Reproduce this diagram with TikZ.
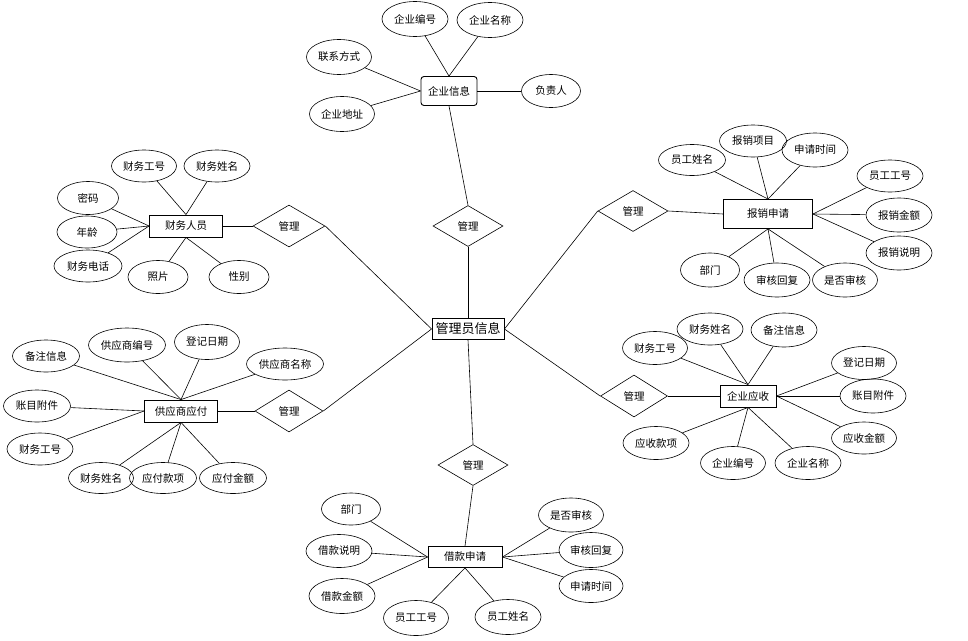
\documentclass[tikz,border=0pt]{standalone}
\usepackage{fontspec}
\setmainfont{Noto Sans CJK SC}
\usetikzlibrary{shapes.geometric}
\begin{document}
\begin{tikzpicture}[x=1pt,y=-1pt,
  attr/.style={ellipse,draw,line width=0.6pt,minimum width=66pt,minimum height=33pt,inner sep=0pt,font=\fontsize{10.5}{12}\selectfont},
  ent/.style={rectangle,draw,line width=0.9pt,inner sep=0pt,font=\fontsize{10.5}{12}\selectfont},
  rel/.style={diamond,draw,line width=0.6pt,minimum width=70pt,minimum height=41pt,inner sep=0pt,font=\fontsize{10.5}{12}\selectfont},
  conn/.style={line width=0.6pt}]
\useasboundingbox (0,0) rectangle (968,640);
% central
\node[ent,minimum width=72pt,minimum height=21pt,font=\fontsize{13}{15}\selectfont] (main) at (468,329) {管理员信息};
% relationships
\node[rel] (d1) at (468,226) {管理};
\node[rel] (d2) at (633,211) {管理};
\node[rel,minimum width=72pt,minimum height=42pt] (d3) at (289,226) {管理};
\node[rel,minimum width=67pt,minimum height=42pt] (d4) at (634,396) {管理};
\node[rel] (d5) at (473,465) {管理};
\node[rel,minimum width=68pt,minimum height=42pt] (d6) at (289,411) {管理};
% entities
\node[ent,rounded corners=3pt,minimum width=56pt,minimum height=29pt] (qyxx) at (449,91) {企业信息};
\node[ent,minimum width=89pt,minimum height=29pt] (bxsq) at (768,214) {报销申请};
\node[ent,minimum width=73pt,minimum height=22pt] (cwry) at (186,226) {财务人员};
\node[ent,minimum width=73pt,minimum height=22pt] (gysyf) at (181,411) {供应商应付};
\node[ent,minimum width=56pt,minimum height=22pt] (qyys) at (748,396) {企业应收};
\node[ent,minimum width=74pt,minimum height=21pt] (jksq) at (465,557) {借款申请};
% 企业信息 attributes
\node[attr,minimum height=35pt] (a11) at (415,19) {企业编号};
\node[attr,minimum height=35pt] (a12) at (490,20) {企业名称};
\node[attr,minimum width=65pt,minimum height=35pt] (a13) at (339,57) {联系方式};
\node[attr,minimum width=65pt,minimum height=35pt] (a14) at (342,114) {企业地址};
\node[attr,minimum width=59pt] (a15) at (551,91) {负责人};
% 报销申请 attributes
\node[attr,minimum width=67pt,minimum height=31pt] (a21) at (692,160) {员工姓名};
\node[attr,minimum width=67pt,minimum height=32pt] (a22) at (753,141) {报销项目};
\node[attr,minimum height=34pt] (a23) at (815,150) {申请时间};
\node[attr,minimum height=32pt] (a24) at (890,176) {员工工号};
\node[attr,minimum height=34pt] (a25) at (899,215) {报销金额};
\node[attr,minimum height=34pt] (a26) at (899,253) {报销说明};
\node[attr,minimum width=59pt,minimum height=34pt] (a27) at (710,270) {部门};
\node[attr,minimum height=34pt] (a28) at (777,280) {审核回复};
\node[attr,minimum width=65pt,minimum height=34pt] (a29) at (845,280) {是否审核};
% 财务人员 attributes
\node[attr,minimum width=65pt,minimum height=32pt] (a31) at (144,166) {财务工号};
\node[attr,minimum height=32pt] (a32) at (217,166) {财务姓名};
\node[attr,minimum width=61pt] (a33) at (88,198) {密码};
\node[attr,minimum width=60pt,minimum height=32pt] (a34) at (87,232) {年龄};
\node[attr,minimum width=68pt,minimum height=32pt] (a35) at (88,266) {财务电话};
\node[attr,minimum width=60pt] (a36) at (158,277) {照片};
\node[attr,minimum width=60pt] (a37) at (239,277) {性别};
% 供应商应付 attributes
\node[attr,minimum width=67pt,minimum height=32pt] (a41) at (46,356) {备注信息};
\node[attr,minimum width=77pt,minimum height=34pt] (a42) at (127,345) {供应商编号};
\node[attr,minimum width=65pt,minimum height=35pt] (a43) at (207,342) {登记日期};
\node[attr,minimum width=77pt,minimum height=32pt] (a44) at (285,364) {供应商名称};
\node[attr,minimum width=67pt,minimum height=32pt] (a45) at (37,406) {账目附件};
\node[attr,minimum height=32pt] (a46) at (40,449) {财务工号};
\node[attr,minimum width=65pt,minimum height=31pt] (a47) at (101,478) {财务姓名};
\node[attr,minimum width=67pt,minimum height=31pt] (a48) at (163,478) {应付款项};
\node[attr,minimum width=67pt,minimum height=31pt] (a49) at (233,478) {应付金额};
% 企业应收 attributes
\node[attr,minimum width=65pt] (a51) at (655,348) {财务工号};
\node[attr,minimum height=32pt] (a52) at (710,329) {财务姓名};
\node[attr,minimum height=34pt] (a53) at (784,330) {备注信息};
\node[attr,minimum width=65pt] (a54) at (864,363) {登记日期};
\node[attr,minimum height=34pt] (a55) at (873,396) {账目附件};
\node[attr,minimum width=65pt,minimum height=32pt] (a56) at (864,438) {应收金额};
\node[attr] (a57) at (656,443) {应收款项};
\node[attr,minimum width=65pt] (a58) at (733,463) {企业编号};
\node[attr] (a59) at (808,463) {企业名称};
% 借款申请 attributes
\node[attr,minimum width=59pt,minimum height=32pt] (a61) at (351,509) {部门};
\node[attr] (a62) at (339,551) {借款说明};
\node[attr,minimum height=35pt] (a63) at (342,596) {借款金额};
\node[attr,minimum width=65pt,minimum height=35pt] (a64) at (416,618) {员工工号};
\node[attr,minimum height=35pt] (a65) at (508,617) {员工姓名};
\node[attr,minimum width=65pt,minimum height=34pt] (a66) at (571,515) {是否审核};
\node[attr,minimum width=64pt,minimum height=35pt] (a67) at (591,550) {审核回复};
\node[attr,minimum width=64pt] (a68) at (591,586) {申请时间};
% connectors: main to relationships
\draw[conn] (main.north) -- (d1.south);
\draw[conn] (main.south) -- (d5.north);
\draw[conn] (main.east) -- (d2.west);
\draw[conn] (main.east) -- (d4.west);
\draw[conn] (main.west) -- (d3.east);
\draw[conn] (main.west) -- (d6.east);
% relationships to entities
\draw[conn] (d1.north) -- (qyxx.south);
\draw[conn] (d2.east) -- (bxsq.west);
\draw[conn] (d3.west) -- (cwry.east);
\draw[conn] (d4.east) -- (qyys.west);
\draw[conn] (d5.south) -- (jksq.north);
\draw[conn] (d6.west) -- (gysyf.east);
% 企业信息
\draw[conn] (a11) -- (qyxx.north);
\draw[conn] (a12) -- (qyxx.north);
\draw[conn] (a13) -- (qyxx.west);
\draw[conn] (a14) -- (qyxx.west);
\draw[conn] (a15) -- (qyxx.east);
% 报销申请
\draw[conn] (a21) -- (bxsq.north);
\draw[conn] (a22) -- (bxsq.north);
\draw[conn] (a23) -- (bxsq.north);
\draw[conn] (a24) -- (bxsq.east);
\draw[conn] (a25) -- (bxsq.east);
\draw[conn] (a26) -- (bxsq.east);
\draw[conn] (a27) -- (bxsq.south);
\draw[conn] (a28) -- (bxsq.south);
\draw[conn] (a29) -- (bxsq.south);
% 财务人员
\draw[conn] (a31) -- (cwry.north);
\draw[conn] (a32) -- (cwry.north);
\draw[conn] (a33) -- (cwry.west);
\draw[conn] (a34) -- (cwry.west);
\draw[conn] (a35) -- (cwry.west);
\draw[conn] (a36) -- (cwry.south);
\draw[conn] (a37) -- (cwry.south);
% 供应商应付
\draw[conn] (a41) -- (gysyf.north);
\draw[conn] (a42) -- (gysyf.north);
\draw[conn] (a43) -- (gysyf.north);
\draw[conn] (a44) -- (gysyf.north);
\draw[conn] (a45) -- (gysyf.west);
\draw[conn] (a46) -- (gysyf.west);
\draw[conn] (a47) -- (gysyf.south);
\draw[conn] (a48) -- (gysyf.south);
\draw[conn] (a49) -- (gysyf.south);
% 企业应收
\draw[conn] (a51) -- (qyys.north);
\draw[conn] (a52) -- (qyys.north);
\draw[conn] (a53) -- (qyys.north);
\draw[conn] (a54) -- (qyys.east);
\draw[conn] (a55) -- (qyys.east);
\draw[conn] (a56) -- (qyys.east);
\draw[conn] (a57) -- (qyys.south);
\draw[conn] (a58) -- (qyys.south);
\draw[conn] (a59) -- (qyys.south);
% 借款申请
\draw[conn] (a61) -- (jksq.west);
\draw[conn] (a62) -- (jksq.west);
\draw[conn] (a63) -- (jksq.west);
\draw[conn] (a64) -- (jksq.south);
\draw[conn] (a65) -- (jksq.south);
\draw[conn] (a66) -- (jksq.east);
\draw[conn] (a67) -- (jksq.east);
\draw[conn] (a68) -- (jksq.east);
\end{tikzpicture}
\end{document}
